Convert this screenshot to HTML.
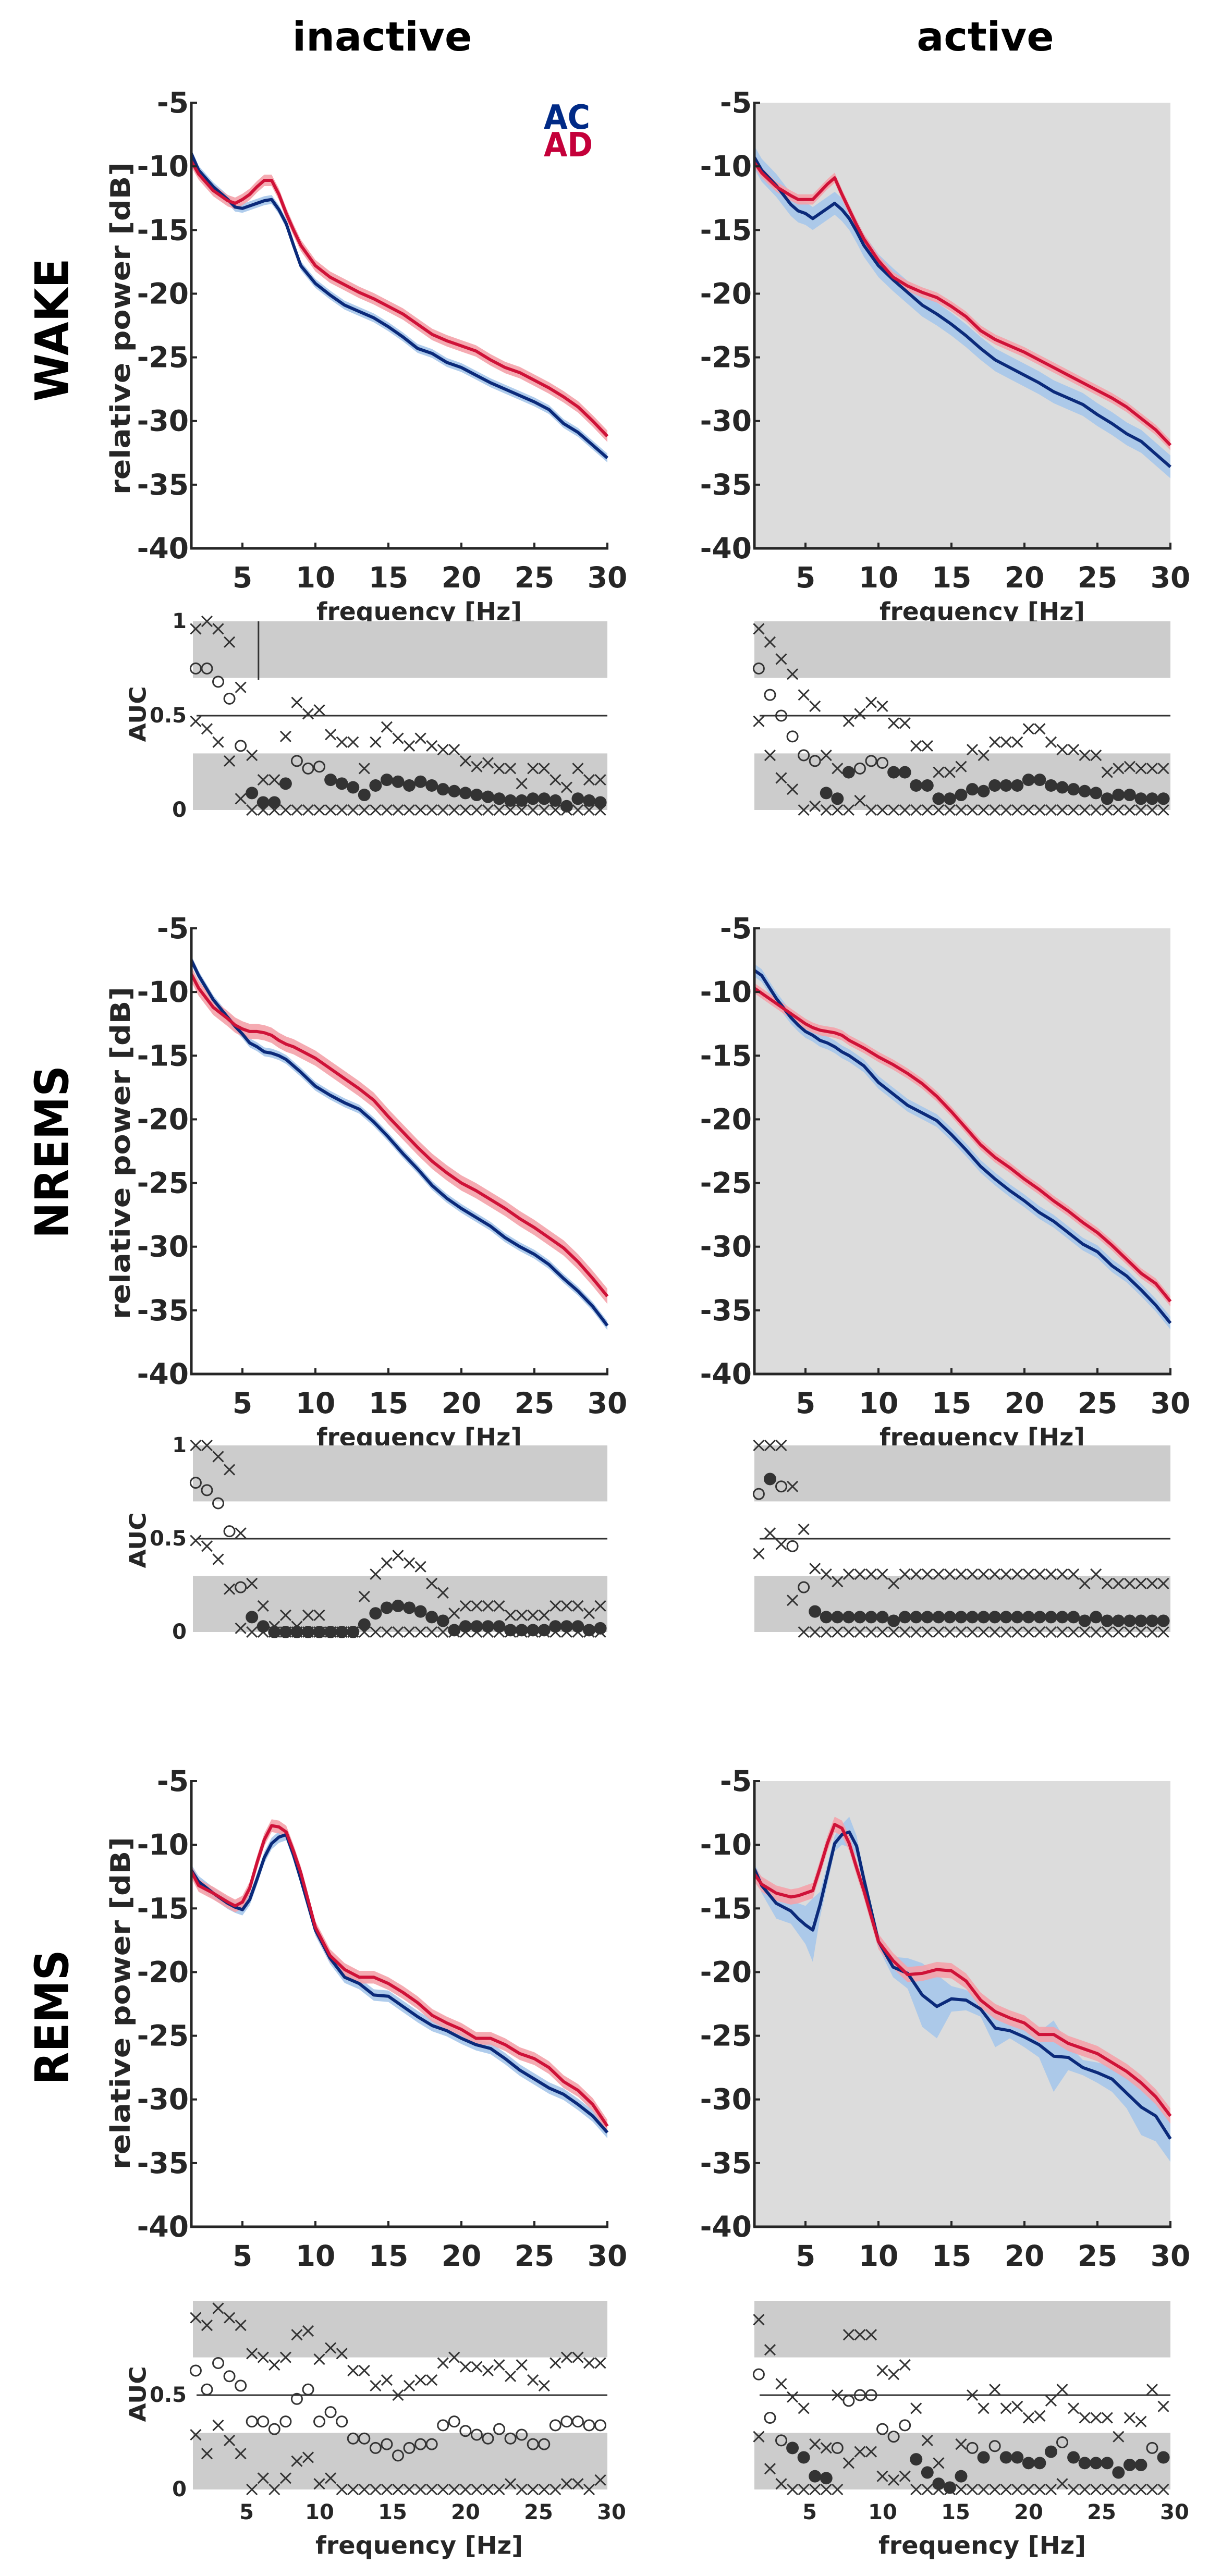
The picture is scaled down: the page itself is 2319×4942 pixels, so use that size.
<!DOCTYPE html>
<html><head><meta charset="utf-8"><title>Relative power spectra and AUC</title>
<style>html,body{margin:0;padding:0;background:#fff;}svg{display:block;font-family:"DejaVu Sans","Liberation Sans",sans-serif;font-weight:bold;}</style>
</head><body>
<svg id="fig" xmlns="http://www.w3.org/2000/svg" width="2319" height="4942" viewBox="0 0 2319 4942"></svg>
<script>
// ---------- data ----------
const freqs = [1.5,2,3,4,4.5,5,5.5,6,6.5,7,7.5,8,8.5,9,10,11,12,13,14,15,16,17,18,19,20,21,22,23,24,25,26,27,28,29,30];
const wakeInAC = [-9.0,-10.3,-11.6,-12.6,-13.2,-13.3,-13.1,-12.9,-12.7,-12.6,-13.4,-14.5,-16.2,-17.8,-19.2,-20.1,-20.9,-21.4,-21.9,-22.6,-23.4,-24.3,-24.7,-25.4,-25.8,-26.4,-27.0,-27.5,-28.0,-28.5,-29.1,-30.2,-30.9,-31.9,-32.9];
const wakeInAD = [-9.6,-10.6,-11.9,-12.7,-12.9,-12.6,-12.2,-11.6,-11.1,-11.1,-12.2,-13.7,-15.0,-16.2,-17.8,-18.7,-19.3,-19.9,-20.4,-21.0,-21.6,-22.4,-23.2,-23.7,-24.1,-24.5,-25.2,-25.8,-26.2,-26.8,-27.4,-28.1,-28.9,-30.0,-31.2];
const wakeActAC = [-9.3,-10.3,-11.5,-13.0,-13.5,-13.7,-14.1,-13.7,-13.3,-12.9,-13.4,-14.1,-15.1,-16.2,-17.8,-18.9,-19.9,-20.9,-21.6,-22.4,-23.3,-24.3,-25.2,-25.8,-26.4,-27.0,-27.7,-28.2,-28.7,-29.5,-30.2,-31.0,-31.6,-32.6,-33.6];
const wakeActAD = [-9.7,-10.5,-11.6,-12.3,-12.6,-12.6,-12.6,-12.0,-11.4,-10.9,-12.2,-13.4,-14.6,-15.7,-17.4,-18.7,-19.4,-19.9,-20.3,-21.0,-21.8,-22.9,-23.6,-24.1,-24.6,-25.2,-25.8,-26.4,-27.0,-27.6,-28.2,-28.9,-29.8,-30.7,-31.9];
const nremInAC = [-7.5,-8.7,-10.6,-12.0,-12.7,-13.3,-14.0,-14.3,-14.7,-14.8,-15.0,-15.3,-15.8,-16.3,-17.4,-18.1,-18.7,-19.2,-20.2,-21.4,-22.7,-23.9,-25.2,-26.2,-27.0,-27.7,-28.4,-29.3,-30.0,-30.6,-31.4,-32.5,-33.5,-34.7,-36.2];
const nremInAD = [-8.6,-9.7,-11.2,-12.1,-12.6,-12.9,-13.1,-13.1,-13.2,-13.4,-13.8,-14.1,-14.3,-14.6,-15.2,-16.0,-16.8,-17.6,-18.5,-19.8,-21.0,-22.2,-23.3,-24.2,-25.0,-25.6,-26.3,-27.0,-27.8,-28.5,-29.3,-30.1,-31.2,-32.5,-33.9];
const nremActAC = [-8.3,-8.7,-10.5,-12.0,-12.6,-13.1,-13.4,-13.8,-14.0,-14.3,-14.7,-15.0,-15.4,-15.8,-17.1,-18.0,-18.9,-19.5,-20.1,-21.2,-22.4,-23.7,-24.7,-25.6,-26.4,-27.3,-28.0,-28.9,-29.8,-30.4,-31.5,-32.3,-33.4,-34.6,-36.0];
const nremActAD = [-9.7,-10.1,-10.9,-11.7,-12.1,-12.5,-12.8,-13.0,-13.1,-13.2,-13.4,-13.8,-14.1,-14.4,-15.1,-15.7,-16.4,-17.2,-18.2,-19.4,-20.7,-22.0,-23.0,-23.8,-24.7,-25.5,-26.4,-27.2,-28.1,-28.9,-29.9,-31.0,-32.1,-32.9,-34.3];
const remInAC = [-12.0,-12.9,-13.8,-14.6,-14.9,-15.1,-14.3,-12.7,-11.0,-9.9,-9.4,-9.2,-10.8,-12.7,-16.7,-18.9,-20.4,-20.9,-21.8,-21.9,-22.7,-23.5,-24.2,-24.6,-25.2,-25.7,-26.0,-26.8,-27.7,-28.4,-29.1,-29.6,-30.4,-31.3,-32.6];
const remInAD = [-12.1,-13.2,-13.8,-14.5,-14.8,-14.5,-13.4,-11.4,-9.6,-8.5,-8.6,-9.0,-10.5,-12.2,-16.5,-18.7,-19.8,-20.4,-20.4,-20.9,-21.6,-22.4,-23.4,-24.0,-24.5,-25.2,-25.2,-25.7,-26.4,-26.8,-27.5,-28.6,-29.3,-30.4,-32.1];
const remActAC = [-11.9,-13.2,-14.6,-15.2,-15.8,-16.3,-16.7,-14.7,-12.3,-9.9,-9.2,-9.0,-10.1,-12.7,-17.6,-19.6,-20.1,-21.8,-22.7,-22.1,-22.2,-22.9,-24.4,-24.6,-25.1,-25.7,-26.6,-26.7,-27.5,-27.9,-28.4,-29.5,-30.6,-31.3,-33.1];
const remActAD = [-12.3,-13.1,-13.8,-14.1,-14.0,-13.8,-13.6,-11.8,-9.9,-8.4,-8.7,-9.9,-11.8,-13.6,-17.6,-19.1,-20.2,-20.1,-19.8,-19.9,-20.7,-22.2,-23.1,-23.6,-24.0,-24.9,-24.9,-25.6,-26.0,-26.4,-27.1,-27.8,-28.7,-29.8,-31.3];
const remActSemAC = [0.4,0.6,1.2,1.0,1.2,1.5,2.5,1.0,0.8,0.6,0.8,1.2,0.8,0.6,0.5,0.8,1.2,2.5,2.5,1.0,0.8,0.6,1.5,0.6,0.8,1.0,2.8,1.0,0.6,0.8,1.0,1.2,2.2,2.0,1.8];

const aucFreqs = [1.8,2.57,3.34,4.11,4.88,5.65,6.42,7.19,7.96,8.73,9.5,10.27,11.04,11.81,12.58,13.35,14.12,14.89,15.66,16.43,17.2,17.97,18.74,19.51,20.28,21.05,21.82,22.59,23.36,24.13,24.9,25.67,26.44,27.21,27.98,28.75,29.52];
const wakeInUp  = [.96,1.0,.96,.89,.65,.29,.16,.16,.39,.57,.51,.53,.40,.36,.36,.22,.36,.44,.38,.34,.38,.34,.32,.32,.26,.23,.25,.22,.22,.14,.22,.22,.16,.12,.22,.16,.16];
const wakeInAuc = [.75,.75,.68,.59,.34,.09,.04,.04,.14,.26,.22,.23,.16,.14,.12,.08,.13,.16,.15,.13,.15,.13,.11,.10,.09,.08,.07,.06,.05,.05,.06,.06,.05,.02,.06,.05,.04];
const wakeInLo  = [.47,.43,.36,.26,.06,0,0,0,0,0,0,0,0,0,0,0,0,0,0,0,0,0,0,0,0,0,0,0,0,0,0,0,0,0,0,0,0];
const wakeActUp  = [.96,.89,.80,.72,.61,.55,.29,.22,.47,.51,.57,.55,.46,.46,.34,.34,.20,.20,.23,.32,.29,.36,.36,.36,.43,.43,.36,.32,.32,.29,.29,.20,.22,.23,.22,.22,.22];
const wakeActAuc = [.75,.61,.50,.39,.29,.26,.09,.06,.20,.22,.26,.25,.20,.20,.13,.13,.06,.06,.08,.11,.10,.13,.13,.13,.16,.16,.13,.12,.11,.10,.09,.06,.08,.08,.06,.06,.06];
const wakeActLo  = [.47,.29,.17,.11,0,.02,0,0,0,.05,0,0,0,0,0,0,0,0,0,0,0,0,0,0,0,0,0,0,0,0,0,0,0,0,0,0,0];
const nremInUp  = [1.0,1.0,.94,.87,.53,.26,.14,.03,.09,.03,.09,.09,0,0,0,.19,.31,.37,.41,.37,.35,.26,.21,.10,.14,.14,.14,.14,.09,.09,.09,.09,.14,.14,.14,.10,.14];
const nremInAuc = [.80,.76,.69,.54,.24,.08,.03,0,0,0,0,0,0,0,0,.04,.10,.13,.14,.13,.11,.08,.06,.01,.03,.03,.03,.03,.01,.01,.01,.01,.03,.03,.03,.01,.02];
const nremInLo  = [.49,.46,.39,.23,.02,0,0,0,0,0,0,0,0,0,0,0,0,0,0,0,0,0,0,0,0,0,0,0,0,0,0,0,0,0,0,0,0];
const nremActUp  = [1,1,1,.78,.55,.34,.31,.27,.31,.31,.31,.31,.26,.31,.31,.31,.31,.31,.31,.31,.31,.31,.31,.31,.31,.31,.31,.31,.31,.26,.31,.26,.26,.26,.26,.26,.26];
const nremActAuc = [.74,.82,.78,.46,.24,.11,.08,.08,.08,.08,.08,.08,.06,.08,.08,.08,.08,.08,.08,.08,.08,.08,.08,.08,.08,.08,.08,.08,.08,.06,.08,.06,.06,.06,.06,.06,.06];
const nremActLo  = [.42,.53,.47,.17,0,0,0,0,0,0,0,0,0,0,0,0,0,0,0,0,0,0,0,0,0,0,0,0,0,0,0,0,0,0,0,0,0];
const remInUp  = [.91,.87,.96,.91,.87,.72,.70,.66,.70,.82,.84,.69,.75,.72,.63,.63,.55,.58,.50,.55,.58,.58,.67,.70,.65,.65,.63,.66,.60,.66,.58,.55,.67,.70,.70,.67,.67];
const remInAuc = [.63,.53,.67,.60,.55,.36,.36,.32,.36,.48,.53,.36,.41,.36,.27,.27,.22,.24,.18,.22,.24,.24,.34,.36,.31,.29,.27,.32,.27,.29,.24,.24,.34,.36,.36,.34,.34];
const remInLo  = [.29,.19,.34,.26,.19,0,.06,0,.06,.15,.17,.03,.06,0,0,0,0,0,0,0,0,0,0,0,0,0,0,0,.03,0,0,0,0,.03,.03,0,.05];
const remActUp  = [.90,.74,.56,.49,.43,.24,.22,.50,.82,.82,.82,.63,.61,.66,.43,.26,.14,0,.24,.50,.43,.53,.43,.44,.38,.39,.47,.53,.43,.38,.38,.38,.28,.38,.36,.53,.44];
const remActAuc = [.61,.38,.26,.22,.17,.07,.06,.22,.47,.50,.50,.32,.28,.34,.16,.09,.03,.01,.07,.22,.17,.23,.17,.17,.14,.14,.20,.25,.17,.14,.14,.14,.09,.13,.13,.22,.17];
const remActLo  = [.28,.11,.03,0,0,0,0,0,.14,.20,.20,.07,.05,.07,0,0,0,0,0,0,0,0,0,0,0,0,0,.03,0,0,0,0,0,0,0,0,0];

const yTicks = [-5,-10,-15,-20,-25,-30,-35,-40];
const xTicks = [5,10,15,20,25,30];
const aucTicks = [1,0.5,0];
const aucTicksRem = [0.5,0];
const rowNames = ['WAKE','NREMS','REMS'];
const colNames = ['inactive','active'];

// ---------- layout ----------
const NS = 'http://www.w3.org/2000/svg';
const svg = document.getElementById('fig');
const cols = [{l:367,r:1165},{l:1447,r:2245}];
const rowTop = [197,1781,3417];
const PH = 855;
const aucRows = [[1192,1554],[2773,3131],[4414,4776]];
const X0 = 1.5, X1 = 30, Y0 = -5, Y1 = -40;
const C_AC = '#0b2a7a', C_AD = '#cf1238', F_AC = '#a6c6ea', F_AD = '#f4a2aa', INK = '#262626';

function mk(tag, attrs, parent, name) {
  const el = document.createElementNS(NS, tag);
  for (const k in attrs) el.setAttribute(k, attrs[k]);
  
  
  parent.appendChild(el);
  return el;
}
function txt(str, attrs, parent, name) {
  const el = mk('text', attrs, parent, name);
  el.textContent = str;
  return el;
}

const panels = [
  {r:0,c:0,ac:wakeInAC,ad:wakeInAD,sac:0.35,sad:0.45,up:wakeInUp,auc:wakeInAuc,lo:wakeInLo},
  {r:0,c:1,ac:wakeActAC,ad:wakeActAD,sac:0.9,sad:0.4,up:wakeActUp,auc:wakeActAuc,lo:wakeActLo},
  {r:1,c:0,ac:nremInAC,ad:nremInAD,sac:0.35,sad:0.6,up:nremInUp,auc:nremInAuc,lo:nremInLo},
  {r:1,c:1,ac:nremActAC,ad:nremActAD,sac:0.5,sad:0.4,up:nremActUp,auc:nremActAuc,lo:nremActLo},
  {r:2,c:0,ac:remInAC,ad:remInAD,sac:0.45,sad:0.5,up:remInUp,auc:remInAuc,lo:remInLo},
  {r:2,c:1,ac:remActAC,ad:remActAD,sac:remActSemAC,sad:0.6,up:remActUp,auc:remActAuc,lo:remActLo}
];

// titles
txt('inactive', {x:733, y:97, 'font-size':77, 'text-anchor':'middle', fill:'#000'}, svg, 'column-title-inactive');
txt('active', {x:1890, y:97, 'font-size':77, 'text-anchor':'middle', fill:'#000'}, svg, 'column-title-active');
const rowLab = [[633,275],[2210,332],[3870,259]];
rowLab.forEach((rl, i) => {
  txt(rowNames[i], {x:0, y:0, 'font-size':88, 'text-anchor':'middle', 'dominant-baseline':'central', textLength:rl[1], lengthAdjust:'spacingAndGlyphs', transform:`translate(100,${rl[0]}) rotate(-90)`, fill:'#000'}, svg, 'row-label-' + rowNames[i].toLowerCase());
});
const yTitleY = [630,2212,3843];
const aucTitleY = [1370,2955,4593];

panels.forEach(p => {
  const g = mk('g', {}, svg, `panel-${rowNames[p.r].toLowerCase()}-${colNames[p.c]}`);
  const L = cols[p.c].l, R = cols[p.c].r, T = rowTop[p.r], B = T + PH;
  const xs = f => L + (f - X0) / (X1 - X0) * (R - L);
  const ys = v => T + (Y0 - v) / (Y0 - Y1) * (B - T);
  if (p.c === 1) mk('rect', {x:L, y:T, width:R-L, height:B-T, fill:'#dcdcdc'}, g, 'active-background');
  const sem = (s, i) => Array.isArray(s) ? s[i] : s;
  [[p.ac,p.sac,F_AC,'ac'],[p.ad,p.sad,F_AD,'ad']].forEach(([d,s,fc,nm]) => {
    const top = d.map((v,i) => `${xs(freqs[i]).toFixed(1)},${ys(v + sem(s,i)).toFixed(1)}`);
    const bot = d.map((v,i) => `${xs(freqs[i]).toFixed(1)},${ys(v - sem(s,i)).toFixed(1)}`).reverse();
    mk('polygon', {points: top.concat(bot).join(' '), fill: fc, opacity: 0.9}, g, `sem-band-${nm}`);
  });
  [[p.ac,C_AC,'ac'],[p.ad,C_AD,'ad']].forEach(([d,col,nm]) => {
    mk('polyline', {points: d.map((v,i) => `${xs(freqs[i]).toFixed(1)},${ys(v).toFixed(1)}`).join(' '), fill:'none', stroke:col, 'stroke-width':6, 'stroke-linejoin':'round'}, g, `spectrum-line-${nm}`);
  });
  mk('line', {x1:L, y1:T-2, x2:L, y2:B, stroke:INK, 'stroke-width':5}, g, 'y-axis');
  mk('line', {x1:L-2, y1:B, x2:R+2, y2:B, stroke:INK, 'stroke-width':5}, g, 'x-axis');
  yTicks.forEach(t => {
    mk('line', {x1:L, y1:ys(t), x2:L+11, y2:ys(t), stroke:INK, 'stroke-width':4}, g, 'y-tick');
    txt(String(t), {x:L-5, y:ys(t), 'font-size':55, 'text-anchor':'end', 'dominant-baseline':'central', fill:INK}, g, 'y-tick-label');
  });
  xTicks.forEach(t => {
    mk('line', {x1:xs(t), y1:B, x2:xs(t), y2:B-11, stroke:INK, 'stroke-width':4}, g, 'x-tick');
    txt(String(t), {x:xs(t), y:B+56, 'font-size':55, 'text-anchor':'middle', 'dominant-baseline':'central', fill:INK}, g, 'x-tick-label');
  });
  if (p.r < 2) txt('frequency [Hz]', {x:(L+R)/2+38, y:B+122, 'font-size':47, 'text-anchor':'middle', 'dominant-baseline':'central', textLength:394, lengthAdjust:'spacingAndGlyphs', fill:INK}, g, 'x-axis-title');
  if (p.c === 0) {
    txt('relative power [dB]', {x:0, y:0, 'font-size':52, 'text-anchor':'middle', 'dominant-baseline':'central', textLength:638, lengthAdjust:'spacingAndGlyphs', transform:`translate(232,${yTitleY[p.r]}) rotate(-90)`, fill:INK}, g, 'y-axis-title');
  }
  if (p.r === 0 && p.c === 0) {
    txt('AC', {x:1043, y:247, 'font-size':64, textLength:89, lengthAdjust:'spacingAndGlyphs', fill:'#002a86'}, g, 'legend-ac');
    txt('AD', {x:1043, y:300, 'font-size':64, textLength:94, lengthAdjust:'spacingAndGlyphs', fill:'#c4003a'}, g, 'legend-ad');
  }

  // AUC panel
  const ag = mk('g', {}, g, 'auc-panel');
  const a1 = aucRows[p.r][0], a0 = aucRows[p.r][1];
  const ya = v => a0 - v * (a0 - a1);
  const bl = p.c === 0 ? L + 3 : L;
  mk('rect', {x:bl, y:ya(1), width:R-bl, height:ya(0.7)-ya(1), fill:'#cccccc'}, ag, 'auc-upper-band');
  mk('rect', {x:bl, y:ya(0.3), width:R-bl, height:ya(0)-ya(0.3), fill:'#cccccc'}, ag, 'auc-lower-band');
  mk('line', {x1:L+10, y1:ya(0.5), x2:R, y2:ya(0.5), stroke:'#333', 'stroke-width':3}, ag, 'auc-chance-line');
  if (p.r === 0 && p.c === 0) mk('line', {x1:xs(6.1), y1:ya(1), x2:xs(6.1), y2:ya(0.69), stroke:'#333', 'stroke-width':3}, ag, 'auc-marker-line');
  const cross = (x, y, nm) => {
    mk('path', {d:`M${x-10},${y-10}L${x+10},${y+10}M${x-10},${y+10}L${x+10},${y-10}`, stroke:'#333', 'stroke-width':3, fill:'none'}, ag, nm);
  };
  aucFreqs.forEach((f, i) => {
    const x = xs(f);
    cross(x, ya(p.up[i]), 'auc-ci-upper');
    cross(x, ya(p.lo[i]), 'auc-ci-lower');
    const sig = p.up[i] < 0.5 || p.lo[i] > 0.5;
    if (sig) mk('circle', {cx:x, cy:ya(p.auc[i]), r:12, fill:'#333'}, ag, 'auc-point-significant');
    else mk('circle', {cx:x, cy:ya(p.auc[i]), r:10, fill:'none', stroke:'#333', 'stroke-width':3}, ag, 'auc-point');
  });
  if (p.c === 0) {
    (p.r === 2 ? aucTicksRem : aucTicks).forEach(t => {
      txt(String(t), {x:358, y:ya(t), 'font-size':40, 'text-anchor':'end', 'dominant-baseline':'central', fill:INK}, ag, 'auc-tick-label');
    });
    txt('AUC', {x:0, y:0, 'font-size':44, 'text-anchor':'middle', 'dominant-baseline':'central', textLength:107, lengthAdjust:'spacingAndGlyphs', transform:`translate(265,${aucTitleY[p.r]}) rotate(-90)`, fill:INK}, ag, 'auc-axis-title');
  }
  if (p.r === 2) {
    xTicks.forEach(t => {
      txt(String(t), {x:xs(t)+8, y:4820, 'font-size':40, 'text-anchor':'middle', 'dominant-baseline':'central', fill:INK}, ag, 'auc-x-tick-label');
    });
    txt('frequency [Hz]', {x:(L+R)/2+38, y:4884, 'font-size':47, 'text-anchor':'middle', 'dominant-baseline':'central', textLength:398, lengthAdjust:'spacingAndGlyphs', fill:INK}, ag, 'auc-x-axis-title');
  }
});
</script>
</body></html>
